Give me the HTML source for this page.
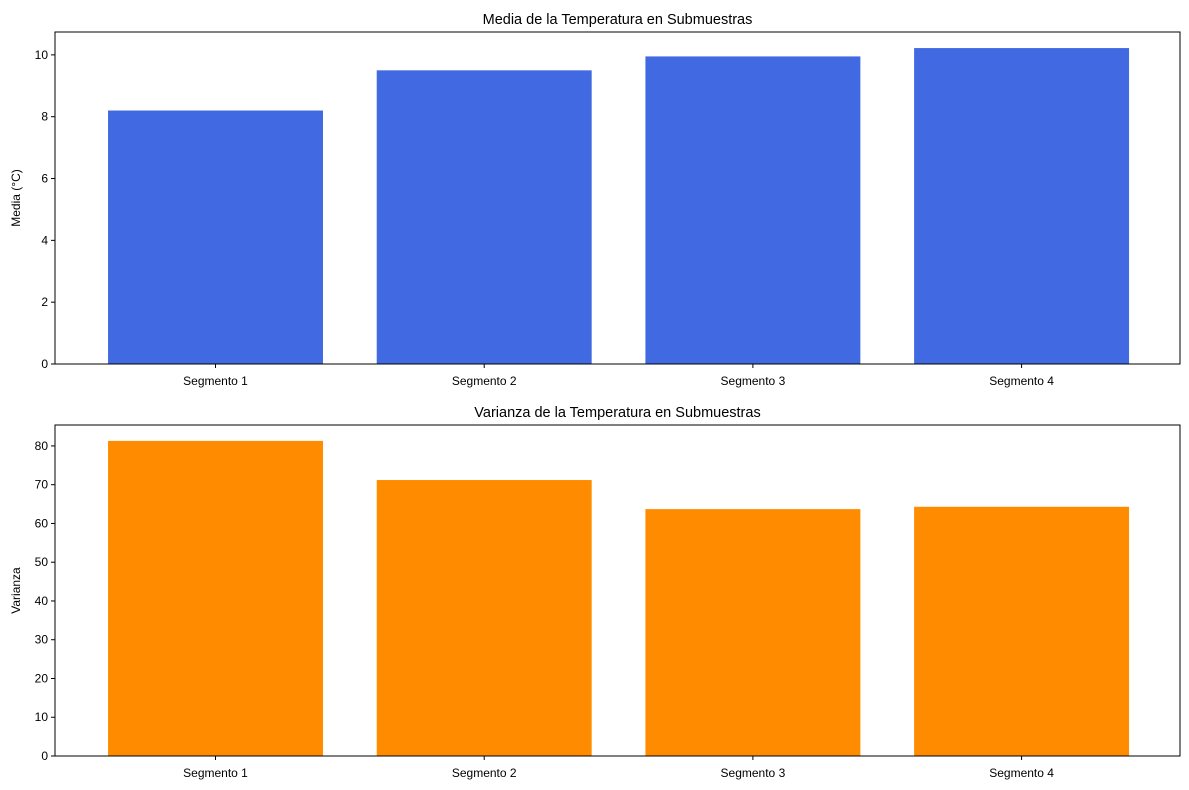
<!DOCTYPE html>
<html><head><meta charset="utf-8"><style>
body{margin:0;background:#fff;}
svg{display:block;font-family:"Liberation Sans","DejaVu Sans",sans-serif;}
</style></head><body>
<svg id="chart" width="1189" height="790"></svg>
<script>
const categories=["Segmento 1","Segmento 2","Segmento 3","Segmento 4"];
const meanValues=[8.2,9.5,9.95,10.22];
const varValues=[81.3,71.2,63.7,64.3];
const meanTicks=[0,2,4,6,8,10];
const varTicks=[0,10,20,30,40,50,60,70,80];
const NS="http://www.w3.org/2000/svg";
const svg=document.getElementById("chart");
function mk(tag,attrs,parent){const e=document.createElementNS(NS,tag);for(const k in attrs)e.setAttribute(k,attrs[k]);(parent||svg).appendChild(e);return e;}
function panel(cfg){
  const g=mk("g",{});
  
  
  const L=55,R=1180,T=cfg.top,B=cfg.bottom;
  const xmin=-0.5974,xmax=3.5896;
  const x=v=>L+(v-xmin)/(xmax-xmin)*(R-L);
  const y=v=>B-(v-0)/(cfg.ymax)*(B-T);
  cfg.values.forEach((v,i)=>{
    const r=mk("rect",{x:x(i-0.4),y:y(v),width:x(i+0.4)-x(i-0.4),height:B-y(v),fill:cfg.color},g);
    
    
  });
  const f=mk("rect",{x:L,y:T,width:R-L,height:B-T,fill:"none",stroke:"#000","stroke-width":1},g);
  
  
  cfg.ticks.forEach(t=>{
    mk("line",{x1:L-4,x2:L,y1:y(t),y2:y(t),stroke:"#000"},g);
    const tx=mk("text",{x:L-7,y:y(t)+4,"text-anchor":"end","font-size":"12"},g);
    tx.textContent=t;
    
    
  });
  categories.forEach((c,i)=>{
    mk("line",{x1:x(i),x2:x(i),y1:B,y2:B+4,stroke:"#000"},g);
    const tx=mk("text",{x:x(i),y:B+21,"text-anchor":"middle","font-size":"12"},g);
    tx.textContent=c;
    
    
  });
  const ti=mk("text",{x:(L+R)/2,y:T-8,"text-anchor":"middle","font-size":"14.5"},g);
  ti.textContent=cfg.title;
  
  
  const yl=mk("text",{x:20,y:(T+B)/2,"text-anchor":"middle","font-size":"12",transform:`rotate(-90 20 ${(T+B)/2})`},g);
  yl.textContent=cfg.ylabel;
  
  
}
panel({name:"mean-panel",top:32,bottom:364,ymax:10.74,values:meanValues,ticks:meanTicks,color:"#4169e1",title:"Media de la Temperatura en Submuestras",ylabel:"Media (°C)"});
panel({name:"variance-panel",top:425,bottom:756,ymax:85.4,values:varValues,ticks:varTicks,color:"#ff8c00",title:"Varianza de la Temperatura en Submuestras",ylabel:"Varianza"});
</script>
</body></html>
